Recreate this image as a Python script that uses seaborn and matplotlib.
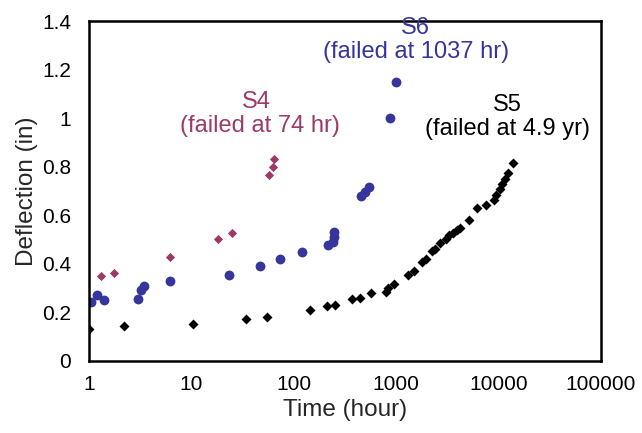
import numpy as np
import pandas as pd
import matplotlib
matplotlib.use("Agg")
import matplotlib.pyplot as plt
import seaborn as sns
from matplotlib.ticker import FixedLocator, FuncFormatter, NullLocator

# ---- data ----
s4_time = [1.30, 1.77, 6.2, 18.0, 24.7, 57.4, 62.8, 63.8]
s4_defl = [0.348, 0.364, 0.427, 0.502, 0.527, 0.765, 0.800, 0.832]

s6_time = [1.05, 1.21, 1.41, 3.03, 3.24, 3.46, 6.2, 23.4, 46.6, 73, 120,
           215, 242, 246, 246, 454, 493, 547, 877, 1004]
s6_defl = [0.244, 0.271, 0.251, 0.255, 0.292, 0.307, 0.329, 0.354, 0.390,
           0.419, 0.447, 0.476, 0.489, 0.511, 0.530, 0.680, 0.694, 0.715,
           1.001, 1.150]

s5_time = [1.0, 2.19, 10.4, 34, 55, 145, 211, 253, 368, 440, 568, 801, 827,
           946, 1295, 1482, 1774, 1941, 2220, 2393, 2656, 3040, 3275, 3581,
           3918, 4165, 5131, 6147, 7470, 8940, 9500, 10240, 10870, 11530,
           12450, 14000]
s5_defl = [0.130, 0.144, 0.151, 0.171, 0.181, 0.210, 0.226, 0.229, 0.254,
           0.259, 0.278, 0.284, 0.302, 0.318, 0.355, 0.369, 0.406, 0.419,
           0.451, 0.463, 0.487, 0.504, 0.518, 0.529, 0.539, 0.548, 0.581,
           0.628, 0.644, 0.661, 0.685, 0.707, 0.727, 0.748, 0.776, 0.814]

x_ticks = [1, 10, 100, 1000, 10000, 100000]
y_ticks = [0, 0.2, 0.4, 0.6, 0.8, 1.0, 1.2, 1.4]

c_s4 = "#9c3a68"
c_s6 = "#35359c"
c_s5 = "#000000"

df = pd.concat([
    pd.DataFrame({"time": s4_time, "defl": s4_defl, "series": "S4"}),
    pd.DataFrame({"time": s6_time, "defl": s6_defl, "series": "S6"}),
    pd.DataFrame({"time": s5_time, "defl": s5_defl, "series": "S5"}),
])

sns.set_style("white")
plt.rcParams["font.family"] = ["Liberation Sans", "DejaVu Sans"]

fig = plt.figure(figsize=(6.42, 4.33), dpi=100)
ax = fig.add_axes([0.1386, 0.1663, 0.7974, 0.7852])

sns.scatterplot(data=df[df.series == "S5"], x="time", y="defl", ax=ax,
                color=c_s5, marker="D", s=26, linewidth=0, legend=False)
sns.scatterplot(data=df[df.series == "S6"], x="time", y="defl", ax=ax,
                color=c_s6, marker="o", s=50, linewidth=0, legend=False)
sns.scatterplot(data=df[df.series == "S4"], x="time", y="defl", ax=ax,
                color=c_s4, marker="D", s=22, linewidth=0, legend=False)

ax.set_xscale("log")
ax.set_xlim(1, 100000)
ax.set_ylim(0, 1.4)
ax.xaxis.set_major_locator(FixedLocator(x_ticks))
ax.xaxis.set_minor_locator(NullLocator())
ax.xaxis.set_major_formatter(FuncFormatter(lambda v, p: f"{int(round(v))}"))
ax.yaxis.set_major_locator(FixedLocator(y_ticks))
ax.yaxis.set_major_formatter(FuncFormatter(lambda v, p: f"{v:g}"))

for sp in ax.spines.values():
    sp.set_visible(True)
    sp.set_color("black")
    sp.set_linewidth(1.8)

ax.tick_params(axis="both", direction="in", length=5, width=1,
               labelsize=15, colors="black")
ax.tick_params(axis="y", pad=13)
ax.tick_params(axis="x", pad=10)

ax.set_xlabel("Time (hour)", fontsize=17.5, labelpad=4)
ax.set_ylabel("Deflection (in)", fontsize=17.5, labelpad=3)

fs = 17
ax.text(43, 1.066, "S4", color=c_s4, fontsize=fs, ha="center", va="center")
ax.text(46.6, 0.967, "(failed at 74 hr)", color=c_s4, fontsize=fs, ha="center", va="center")
ax.text(1550, 1.371, "S6", color=c_s6, fontsize=fs, ha="center", va="center")
ax.text(1550, 1.272, "(failed at 1037 hr)", color=c_s6, fontsize=fs, ha="center", va="center")
ax.text(12250, 1.054, "S5", color=c_s5, fontsize=fs, ha="center", va="center")
ax.text(12250, 0.955, "(failed at 4.9 yr)", color=c_s5, fontsize=fs, ha="center", va="center")

fig.savefig("out.png", dpi=100)
